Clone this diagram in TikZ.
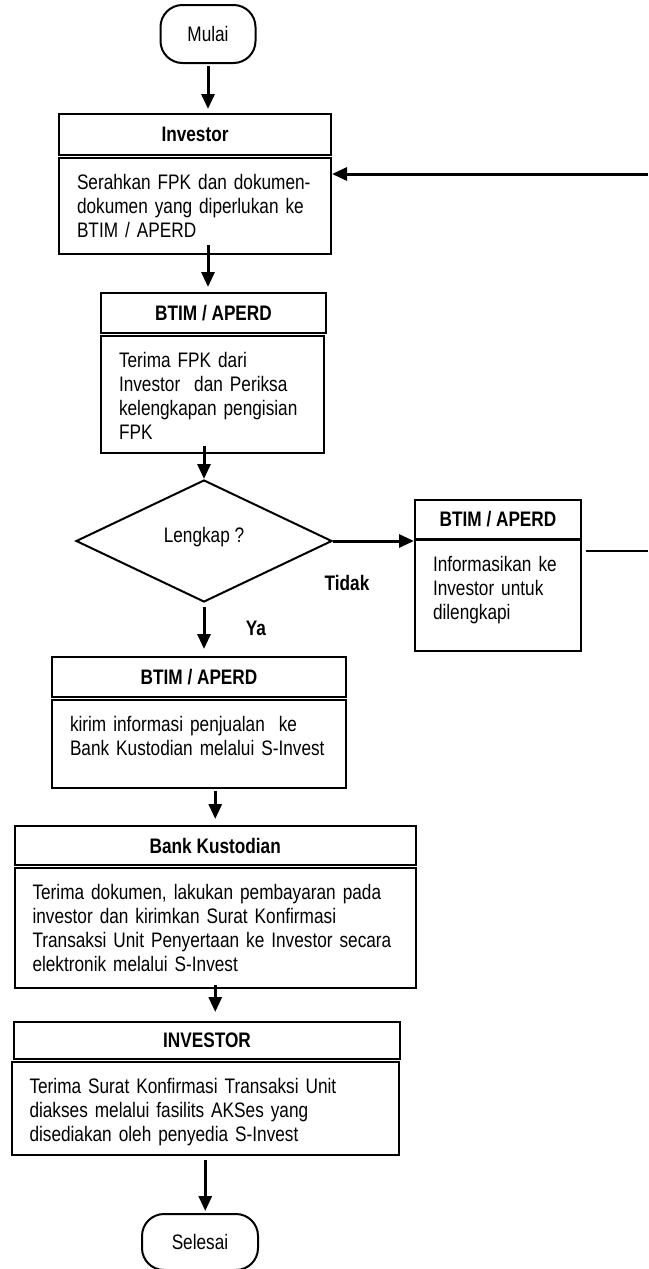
\documentclass[tikz,border=0pt]{standalone}
\usepackage{fontspec}
\setmainfont{Liberation Sans}[FakeStretch=0.82]
\usetikzlibrary{shapes.geometric, arrows.meta}

\begin{document}
\begin{tikzpicture}[x=1pt, y=-1pt, line width=2pt,
    font=\fontsize{21}{24}\selectfont,
    termbox/.style={draw, rounded corners=22pt},
    titlebox/.style={draw, font=\fontsize{21}{24}\selectfont\bfseries},
    stepbox/.style={draw, anchor=north, align=left, inner xsep=18pt, inner ysep=15.5pt, text height=16pt},
    askbox/.style={draw, diamond, aspect=2, inner sep=0pt, text depth=12pt},
    arr/.style={-{Triangle[length=15pt, width=13pt]}, line width=3pt}]
    \useasboundingbox (0,0) rectangle (648,1269);

    % mulai
    \node[termbox, minimum width=95pt, minimum height=58pt] (mulai) at (208,34) {Mulai};

    % investor
    \node[titlebox, minimum width=272pt, minimum height=41pt] (investor) at (195,134.5) {Investor};
    \node[stepbox, text width=236pt, text depth=49pt] (investorbody) at (195,157)
        {Serahkan FPK dan dokumen-\\dokumen yang diperlukan ke\\BTIM / APERD};

    % btim / aperd
    \node[titlebox, minimum width=225pt, minimum height=40pt] (terima) at (213.5,313) {BTIM / APERD};
    \node[stepbox, text width=187pt, text depth=70pt] (terimabody) at (212.5,335)
        {Terima FPK dari\\Investor\ \ dan Periksa\\kelengkapan pengisian\\FPK};

    % lengkap ?
    \node[askbox, minimum width=256pt, minimum height=122pt] (lengkap) at (204,541) {Lengkap ?};

    \node[titlebox, minimum width=166pt, minimum height=39pt] (info) at (498,519.5) {BTIM / APERD};
    \node[stepbox, text width=130pt, text depth=64pt] (infobody) at (498,539)
        {Informasikan ke\\Investor untuk\\dilengkapi};

    \node[titlebox, minimum width=294pt, minimum height=40pt] (kirim) at (199,677) {BTIM / APERD};
    \node[stepbox, text width=258pt, text depth=41pt] (kirimbody) at (199,699)
        {kirim informasi penjualan\ \ ke\\Bank Kustodian melalui S-Invest};

    % bank kustodian
    \node[titlebox, minimum width=401.5pt, minimum height=39pt] (bank) at (215.25,845.5) {Bank Kustodian};
    \node[stepbox, text width=365.5pt, text depth=73pt] (bankbody) at (215.25,867)
        {Terima dokumen, lakukan pembayaran pada\\investor dan kirimkan Surat Konfirmasi\\Transaksi Unit Penyertaan ke Investor secara\\elektronik melalui S-Invest};

    \node[titlebox, minimum width=386pt, minimum height=37pt] (investordua) at (207,1040.5) {INVESTOR};
    \node[stepbox, text width=351.5pt, text depth=46pt] (investordubody) at (205.25,1061)
        {Terima Surat Konfirmasi Transaksi Unit\\diakses melalui fasilits AKSes yang\\disediakan oleh penyedia S-Invest};

    % selesai
    \node[termbox, minimum width=116pt, minimum height=56pt] (selesai) at (200,1242) {Selesai};

    \node[font=\fontsize{21}{24}\selectfont\bfseries] (tidak) at (347,583) {Tidak};
    \node[font=\fontsize{21}{24}\selectfont\bfseries] (ya) at (256,628) {Ya};

    \coordinate (kanan1) at (648,551);
    \coordinate (kanan2) at (648,174);

    % arrows
    \draw[arr, shorten <=2pt, shorten >=4pt] (mulai.south) -- (mulai.south |- investor.north);
    \draw[arr, shorten <=-10pt, shorten >=5pt] (investorbody.south -| mulai.south) -- (terima.north -| mulai.south);
    \draw[arr, shorten <=-8pt] (terimabody.south -| lengkap.north) -- (lengkap.north);
    \draw[arr] (lengkap.east) -- (lengkap.east -| info.west);
    \draw[arr, shorten <=4pt, shorten >=7pt] (lengkap.south) -- (lengkap.south |- kirim.north);
    \draw[arr, shorten <=2pt, shorten >=6pt] (kirimbody.south -| bank.north) -- (bank.north);
    \draw[arr, shorten <=-4pt, shorten >=9pt] (bankbody.south) -- (bankbody.south |- investordua.north);
    \draw[arr, shorten <=4pt, shorten >=2pt] (investordubody.south) -- (investordubody.south |- selesai.north);
    \draw[shorten <=4pt] (infobody.east |- kanan1) -- (kanan1);
    \draw[arr] (kanan2) -- (kanan2 -| investorbody.east);
\end{tikzpicture}
\end{document}
